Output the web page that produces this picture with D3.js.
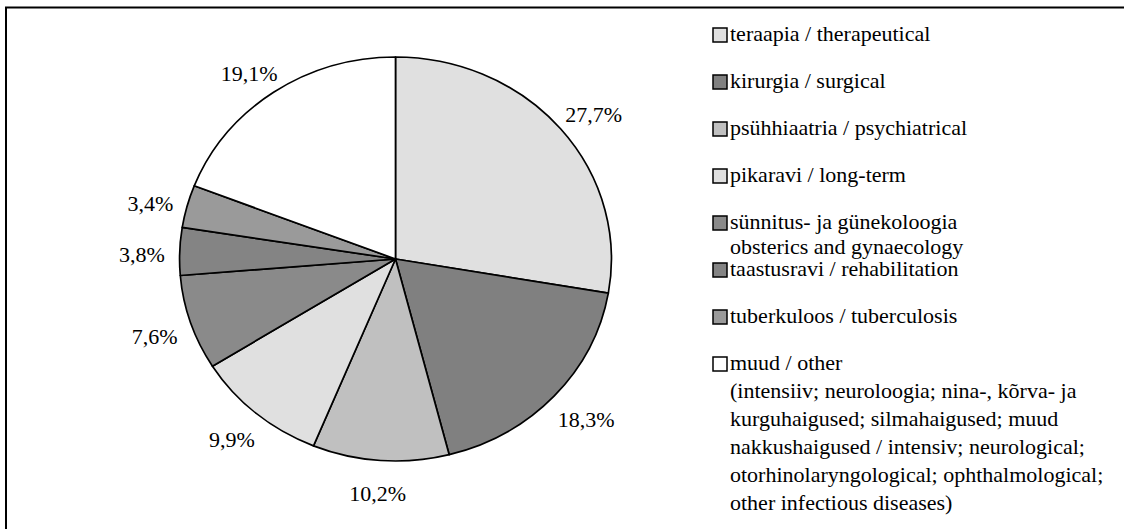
<!DOCTYPE html>
<html>
<head>
<meta charset="utf-8">
<script src="https://cdn.jsdelivr.net/npm/d3@7/dist/d3.min.js"></script>
<style>
  html, body { margin: 0; padding: 0; background: #fff; }
  svg { display: block; }
</style>
</head>
<body>
<svg id="chart" width="1124" height="529"></svg>
<script>
// ---- data ----
const categories = [
  "teraapia / therapeutical",
  "kirurgia / surgical",
  "psühhiaatria / psychiatrical",
  "pikaravi / long-term",
  "sünnitus- ja günekoloogia",
  "taastusravi / rehabilitation",
  "tuberkuloos / tuberculosis",
  "muud / other"
];
const extraLines = [
  [],
  [],
  [],
  [],
  ["obsterics and gynaecology"],
  [],
  [],
  ["(intensiiv; neuroloogia; nina-, kõrva- ja",
   "kurguhaigused; silmahaigused; muud",
   "nakkushaigused / intensiv; neurological;",
   "otorhinolaryngological; ophthalmological;",
   "other infectious diseases)"]
];
const values = [27.7, 18.3, 10.2, 9.9, 7.6, 3.8, 3.4, 19.1];
const colors = ["#e0e0e0", "#808080", "#c0c0c0", "#e0e0e0", "#8a8a8a", "#848484", "#9a9a9a", "#ffffff"];

// ---- layout ----
const W = 1124, H = 529;
const kx = 1.069;             // horizontal stretch of the original picture (pie is an ellipse)
const cxS = 395.5, cy = 259, R = 202;
const fontSize = 22;
const FONT = "Liberation Serif";

const svg = d3.select("#chart");

// frame (only top/left visible, continues beyond picture)
svg.append("rect")
  .attr("x", 6).attr("y", 7.5)
  .attr("width", W + 20).attr("height", H + 20)
  .attr("fill", "none").attr("stroke", "#000").attr("stroke-width", 2);

const fmt = d3.formatLocale({decimal: ",", thousands: " ", grouping: [3], currency: ["", ""]}).format(".1f");

const pieData = d3.pie().sort(null).value(d => d)(values);
const arc = d3.arc().innerRadius(0).outerRadius(R);

const pieG = svg.append("g").attr("transform", `translate(${cxS},${cy}) scale(${kx},1)`);
pieG.selectAll("path")
  .data(pieData)
  .join("path")
  .attr("d", arc)
  .attr("fill", (d, i) => colors[i])
  .attr("stroke", "#000")
  .attr("stroke-width", 1.7)
  .attr("stroke-linejoin", "round")
  .attr("vector-effect", "non-scaling-stroke");

const addText = (parent, x, y, str) => parent.append("text")
  .attr("x", x).attr("y", y)
  .attr("font-family", FONT).attr("font-size", fontSize)
  .attr("fill", "#000").text(str);

// percentage labels outside the pie
const gap = 14, halfH = 14.5, baseOff = 12;
const labels = svg.append("g");
pieData.forEach((d) => {
  const t = addText(labels, 0, 0, fmt(d.value) + "%").attr("text-anchor", "middle");
  const w = t.node().getComputedTextLength();
  const th = (d.startAngle + d.endAngle) / 2;
  const s = Math.sin(th), c = Math.cos(th);
  const px = cxS + kx * (R + gap) * s + s * w / 2;
  const py = cy - (R + gap) * c - c * halfH;
  t.attr("x", px).attr("y", py + baseOff);
});

// legend
const rowY = d3.scalePoint().domain(categories).range([35, 364]);
const boxX = 713, textX = 730, box = 14, lineH = 28;
const leg = svg.append("g");
categories.forEach((cat, i) => {
  const y = rowY(cat);
  leg.append("rect")
    .attr("x", boxX).attr("y", y - box / 2)
    .attr("width", box).attr("height", box)
    .attr("fill", colors[i])
    .attr("stroke", "#000").attr("stroke-width", 1.5);
  addText(leg, textX, y + 6, cat);
  extraLines[i].forEach((ln, j) => {
    const dy = (i === 4) ? 25 : lineH;
    addText(leg, textX, y + 6 + (j + 1) * dy, ln);
  });
});
</script>
</body>
</html>
